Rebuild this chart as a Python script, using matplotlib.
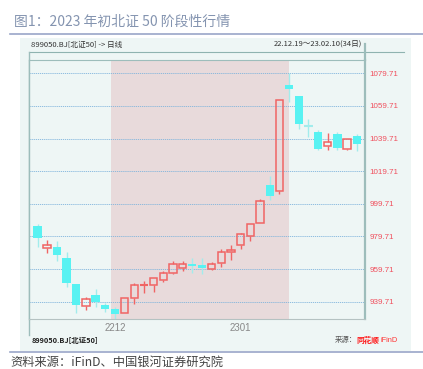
import matplotlib.pyplot as plt
import numpy as np
from matplotlib.lines import Line2D
from matplotlib.patches import Rectangle

plt.rcParams["font.family"] = ["Noto Sans CJK SC", "DejaVu Sans"]

W, H = 423, 369

# daily candles, 899050.BJ
opens = [986.1, 972.5, 973.5, 966.7, 950.6, 937.1, 943.6, 937.5, 935.2, 933.0,
         942.2, 950.0, 949.7, 952.8, 957.0, 960.4, 962.8, 962.4, 959.7, 963.3,
         970.0, 974.5, 980.0, 987.8, 1011.3, 1007.4, 1072.8, 1065.9, 1047.7, 1043.8,
         1035.0, 1042.6, 1033.6, 1041.4]
closes = [978.6, 974.5, 968.4, 951.0, 937.7, 941.4, 939.5, 935.0, 932.2, 942.2,
          949.7, 950.5, 954.0, 957.3, 962.8, 962.8, 961.6, 960.1, 963.0, 970.0,
          971.4, 981.1, 987.2, 1001.7, 1004.7, 1063.3, 1070.2, 1048.7, 1047.1, 1033.6,
          1037.5, 1034.2, 1039.3, 1036.5]
highs = [987.4, 977.6, 977.1, 970.2, 950.6, 942.4, 947.3, 938.7, 936.6, 942.2,
         951.3, 952.4, 954.4, 958.7, 964.6, 964.4, 966.7, 966.2, 964.0, 972.2,
         974.5, 981.7, 987.2, 1002.5, 1017.0, 1063.3, 1079.7, 1066.0, 1051.6, 1044.9,
         1043.2, 1043.8, 1039.3, 1042.4]
lows = [973.4, 969.8, 964.9, 948.5, 932.6, 934.6, 936.3, 933.6, 928.5, 933.0,
        938.0, 944.8, 945.6, 951.8, 956.4, 958.3, 957.5, 956.7, 959.0, 960.8,
        965.3, 972.0, 977.1, 987.8, 1002.1, 1005.8, 1062.4, 1045.5, 1040.6, 1032.8,
        1032.8, 1032.8, 1032.8, 1032.4]

y_ticks = [939.71, 959.71, 979.71, 999.71, 1019.71, 1039.71, 1059.71, 1079.71]
x_tick_pos = [8, 21]
x_tick_labels = ["2212", "2301"]
span_start, span_end = 7.6, 26.0

RED = "#f06464"
CYAN = "#58f2f2"
CYAN_WICK = "#a2ecec"
BG = "#eef6f5"


def fx(px):
    return px / W


def fy(py):
    return 1 - py / H


fig = plt.figure(figsize=(W / 100, H / 100), dpi=100)

fig.patches.append(Rectangle((fx(20), fy(351)), fx(411) - fx(20), fy(38) - fy(351),
                             transform=fig.transFigure, facecolor=BG, edgecolor="none", zorder=-10))

ax = fig.add_axes([fx(29), fy(319), fx(365) - fx(29), fy(60) - fy(319)])
ax.set_zorder(2)
ax.set_facecolor(BG)
ax.axvspan(span_start, span_end, color="#e8dadb", zorder=0, lw=0)

for y in y_ticks:
    ax.axhline(y, color="#80b4dc", lw=0.6, ls=(0, (1.5, 1)), zorder=1)

x = np.arange(len(opens))
width = 0.86
for i in x:
    o, c, h, l = opens[i], closes[i], highs[i], lows[i]
    top, bot = max(o, c), min(o, c)
    if c >= o:
        ax.vlines(i, top, h, color=RED, lw=1.0, zorder=3)
        ax.vlines(i, l, bot, color=RED, lw=1.0, zorder=3)
        if top - bot < 1.0:
            ax.hlines((top + bot) / 2, i - width / 2, i + width / 2, color=RED, lw=1.5, zorder=3)
        else:
            ax.bar(i, top - bot, width=width * 0.9, bottom=bot, facecolor="none",
                   edgecolor=RED, lw=1.1, zorder=3)
    else:
        ax.vlines(i, l, h, color=CYAN_WICK, lw=1.0, zorder=2)
        if top - bot < 1.0:
            ax.hlines((top + bot) / 2, i - width / 2, i + width / 2, color=CYAN_WICK, lw=1.5, zorder=3)
        else:
            ax.bar(i, top - bot, width=width, bottom=bot, color=CYAN, lw=0, zorder=3)

ax.set_xlim(-0.88, 33.85)
ax.set_ylim(929.1, 1087.9)
ax.set_yticks(y_ticks)
ax.set_yticklabels([f"{v:.2f}" for v in y_ticks], color="#f0505e",
                   fontsize=5.8, family="Liberation Sans")
ax.yaxis.tick_right()
ax.set_xticks(x_tick_pos)
ax.set_xticklabels(x_tick_labels, color="#888888", fontsize=7, family="Liberation Sans")
ax.tick_params(length=0, pad=3)
ax.tick_params(axis="y", pad=3)
for side in ["left", "right", "top"]:
    ax.spines[side].set_color("#9dbdbb")
ax.spines["right"].set_linewidth(1.6)
ax.spines["bottom"].set_color("#b5c2c2")
ax.spines["left"].set_linewidth(1.0)

# frame lines around the chart panel
fig.add_artist(Line2D([fx(29), fx(404)], [fy(52), fy(52)], color="#8fb3b0", lw=0.8))
fig.add_artist(Line2D([fx(29), fx(29)], [fy(52), fy(335)], color="#9dbdbb", lw=1.0))
fig.add_artist(Line2D([fx(365), fx(365)], [fy(44), fy(60)], color="#9dbdbb", lw=1.6))

# title and rules
fig.text(fx(14), fy(22), "图1：2023 年初北证 50 阶段性行情", fontsize=10,
         color="#8494b0", va="center", ha="left")
fig.add_artist(Line2D([fx(10), 1], [fy(34), fy(34)], color="#9aa6c8", lw=1.2))
fig.add_artist(Line2D([fx(10), 1], [fy(352), fy(352)], color="#9aa6c8", lw=1.2))

fig.text(fx(31), fy(45), "899050.BJ[北证50] -> 日线", fontsize=5.5, color="#333333",
         va="center", ha="left")
fig.text(fx(362), fy(45), "22.12.19～23.02.10(34日)", fontsize=5.5, color="#333333",
         va="center", ha="right")
fig.text(fx(32), fy(340), "899050.BJ[北证50]", fontsize=5.3, color="#222222",
         va="center", ha="left", fontweight="bold")
fig.text(fx(335), fy(340), "来源：", fontsize=5.3, color="#555555", va="center", ha="left")
fig.text(fx(356), fy(340), "同花顺", fontsize=5.5, color="#ff1a1a", va="center", ha="left",
         fontweight="bold")
fig.text(fx(380), fy(340), "iFinD", fontsize=5.3, color="#ff3333", va="center", ha="left",
         family="Liberation Sans")

fig.text(fx(10), fy(362), "资料来源：iFinD、中国银河证券研究院", fontsize=8.8,
         color="#444444", va="center", ha="left", style="italic")

fig.savefig("out.png", dpi=100, facecolor="white")
